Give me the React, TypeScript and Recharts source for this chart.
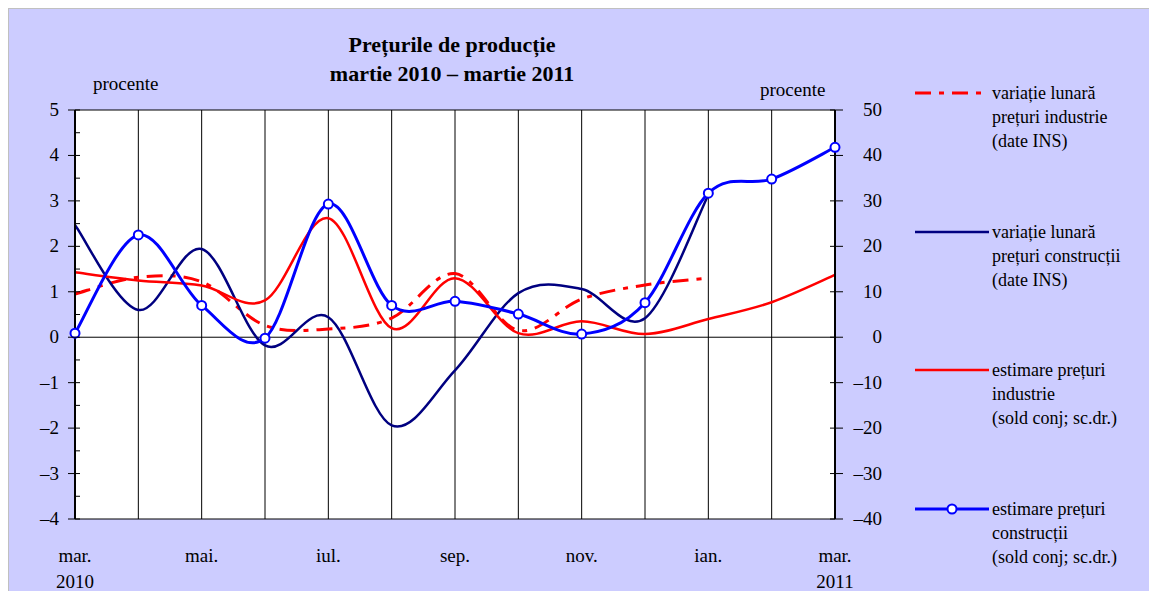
import { LineChart, Line, XAxis, YAxis, CartesianGrid, ReferenceLine } from "recharts";

const months = ["mar.", "apr.", "mai.", "iun.", "iul.", "aug.", "sep.", "oct.", "nov.", "dec.", "ian.", "feb.", "mar."];
const shownMonths = ["mar.", "", "mai.", "", "iul.", "", "sep.", "", "nov.", "", "ian.", "", "mar."];
const years = ["2010", "", "", "", "", "", "", "", "", "", "", "", "2011"];

// left axis (procente)
const varIndustrie = [0.95, 1.32, 1.22, 0.26, 0.18, 0.42, 1.4, 0.15, 0.84, 1.15, 1.3, null, null];
const varConstructii = [2.47, 0.6, 1.94, -0.18, 0.44, -1.94, -0.73, 0.97, 1.06, 0.42, 3.13, null, null];
// right axis (sold conjunctural)
const estIndustrie = [14.3, 12.5, 11.4, 8.1, 26.2, 2.0, 13.0, 0.9, 3.5, 0.7, 4.0, 7.7, 13.7];
const estConstructii = [0.9, 22.5, 7.0, -0.2, 29.3, 7.0, 7.9, 5.1, 0.7, 7.6, 31.7, 34.8, 41.8];

const leftTicks = [-4, -3.5, -3, -2.5, -2, -1.5, -1, -0.5, 0, 0.5, 1, 1.5, 2, 2.5, 3, 3.5, 4, 4.5, 5];
const rightTicks = [-40, -30, -20, -10, 0, 10, 20, 30, 40, 50];

const data = months.map((m, i) => ({
  idx: i,
  varInd: varIndustrie[i],
  varCon: varConstructii[i],
  estInd: estIndustrie[i],
  estCon: estConstructii[i],
}));

const FONT = '"Liberation Serif", "Times New Roman", serif';

// excel-like smoothing (catmull-rom through the points)
const smooth = (context: any) => {
  let pts: number[][] = [];
  return {
    areaStart() {},
    areaEnd() {},
    lineStart() { pts = []; },
    lineEnd() {
      if (!pts.length) return;
      context.moveTo(pts[0][0], pts[0][1]);
      for (let i = 0; i < pts.length - 1; i++) {
        const p0 = pts[i - 1] || pts[i];
        const p1 = pts[i];
        const p2 = pts[i + 1];
        const p3 = pts[i + 2] || p2;
        context.bezierCurveTo(
          p1[0] + (p2[0] - p0[0]) / 6, p1[1] + (p2[1] - p0[1]) / 6,
          p2[0] - (p3[0] - p1[0]) / 6, p2[1] - (p3[1] - p1[1]) / 6,
          p2[0], p2[1]
        );
      }
    },
    point(x: number, y: number) { pts.push([x, y]); },
  };
};

const series = [
  { key: "varInd", axis: "left", color: "#ff0000", width: 3, dash: "16 8 5 8", dot: false, lines: ["variație lunară", "prețuri industrie", "(date INS)"] },
  { key: "varCon", axis: "left", color: "#000080", width: 2.5, dash: undefined, dot: false, lines: ["variație lunară", "prețuri construcții", "(date INS)"] },
  { key: "estInd", axis: "right", color: "#ff0000", width: 2.5, dash: undefined, dot: false, lines: ["estimare prețuri", "industrie", "(sold conj; sc.dr.)"] },
  { key: "estCon", axis: "right", color: "#0000ff", width: 3, dash: undefined, dot: true, lines: ["estimare prețuri", "construcții", "(sold conj; sc.dr.)"] },
];
const legendTops = [72, 211, 349, 488];

const fmt = (v: number) => (v < 0 ? "–" + Math.abs(v) : String(v));

const LeftTick = (p: any) => {
  const v = p.payload.value;
  const ax = p.x + 7;
  const major = Number.isInteger(v);
  return (
    <g>
      <line x1={major ? ax - 7 : ax} x2={ax + 5} y1={p.y} y2={p.y} stroke="#000" />
      {major && (
        <text x={ax - 16} y={p.y} dy={6} textAnchor="end" fontSize={19} fontFamily={FONT} fill="#000">{fmt(v)}</text>
      )}
    </g>
  );
};

const RightTick = (p: any) => {
  const v = p.payload.value;
  const ax = p.x - 8;
  return (
    <g>
      <line x1={ax - 5} x2={ax + 8} y1={p.y} y2={p.y} stroke="#000" />
      <text x={ax + 47} y={p.y} dy={6} textAnchor="end" fontSize={19} fontFamily={FONT} fill="#000">{fmt(v)}</text>
    </g>
  );
};

const MonthTick = (p: any) => {
  const i = p.payload.value;
  return (
    <g fontFamily={FONT} fontSize={19} fill="#000">
      <text x={p.x} y={p.y + 43} textAnchor="middle">{shownMonths[i]}</text>
      <text x={p.x} y={p.y + 69} textAnchor="middle">{years[i]}</text>
    </g>
  );
};

const LegendSample = ({ s }: { s: any }) => (
  <svg width={80} height={24} style={{ position: "absolute", left: 0, top: 0 }}>
    <line x1={2} x2={76} y1={12} y2={12} stroke={s.color} strokeWidth={s.width} strokeDasharray={s.dash} />
    {s.dot && <circle cx={39} cy={12} r={4.5} fill="#fff" stroke={s.color} strokeWidth={2} />}
  </svg>
);

export default function App() {
  return (
    <div style={{ position: "relative", width: 1149, height: 583, background: "#ccccff", borderTop: "1px solid #c0c0c0", borderLeft: "1px solid #c0c0c0", fontFamily: FONT, color: "#000" }}>
      <div style={{ position: "absolute", left: 243, top: 21, width: 400, textAlign: "center", fontSize: 22, fontWeight: "bold", lineHeight: "29px" }}>
        Prețurile de producție
        <br />
        martie 2010 – martie 2011
      </div>
      <div style={{ position: "absolute", left: 84, top: 63, fontSize: 19, lineHeight: "24px" }}>procente</div>
      <div style={{ position: "absolute", left: 751, top: 69, fontSize: 19, lineHeight: "24px" }}>procente</div>

      <LineChart width={1148} height={582} data={data} margin={{ top: 101, left: 16, right: 262, bottom: 12 }}>
        <CartesianGrid horizontal={false} vertical={true} stroke="#000" fill="#fff" fillOpacity={1} />
        <XAxis dataKey="idx" interval={0} tick={<MonthTick />} tickLine={false} tickSize={0} tickMargin={0} height={60} axisLine={{ stroke: "#000" }} />
        <YAxis yAxisId="left" domain={[-4, 5]} ticks={leftTicks} interval={0} width={50} tickSize={7} tickMargin={0} tickLine={false} tick={<LeftTick />} axisLine={{ stroke: "#000", strokeWidth: 2 }} />
        <YAxis yAxisId="right" orientation="right" domain={[-40, 50]} ticks={rightTicks} interval={0} width={60} tickSize={8} tickMargin={0} tickLine={false} tick={<RightTick />} axisLine={{ stroke: "#000", strokeWidth: 2 }} />
        <ReferenceLine yAxisId="left" y={0} stroke="#000" />
        <ReferenceLine yAxisId="left" y={5} stroke="#000" />
        {series.map((s) => (
          <Line
            key={s.key}
            yAxisId={s.axis}
            dataKey={s.key}
            type={smooth as any}
            stroke={s.color}
            strokeWidth={s.width}
            strokeDasharray={s.dash}
            dot={s.dot ? { r: 4.5, fill: "#fff", stroke: s.color, strokeWidth: 2 } : false}
            activeDot={false}
            connectNulls={false}
            isAnimationActive={false}
          />
        ))}
      </LineChart>

      {series.map((s, i) => (
        <div key={s.key} style={{ position: "absolute", left: 904, top: legendTops[i], width: 240, height: 72 }}>
          <LegendSample s={s} />
          <div style={{ position: "absolute", left: 79, top: 0, fontSize: 18, lineHeight: "24px", whiteSpace: "nowrap" }}>
            {s.lines.map((t) => (
              <div key={t}>{t}</div>
            ))}
          </div>
        </div>
      ))}
    </div>
  );
}
